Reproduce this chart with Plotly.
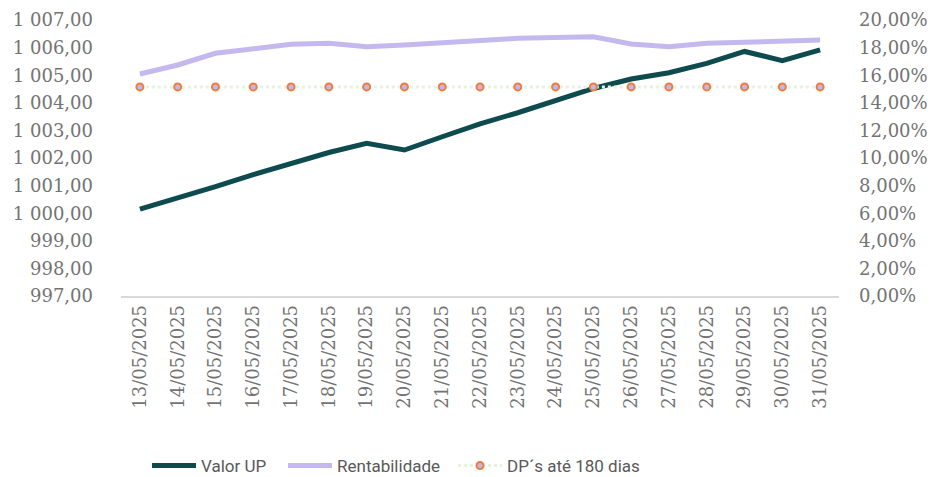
import plotly.graph_objects as go

datas = ["13/05/2025", "14/05/2025", "15/05/2025", "16/05/2025", "17/05/2025",
         "18/05/2025", "19/05/2025", "20/05/2025", "21/05/2025", "22/05/2025",
         "23/05/2025", "24/05/2025", "25/05/2025", "26/05/2025", "27/05/2025",
         "28/05/2025", "29/05/2025", "30/05/2025", "31/05/2025"]

valor_up = [1000.15, 1000.55, 1000.96, 1001.40, 1001.82, 1002.20, 1002.53, 1002.29,
            1002.77, 1003.24, 1003.64, 1004.10, 1004.52, 1004.86, 1005.09, 1005.43,
            1005.86, 1005.53, 1005.92]

rentabilidade = [0.1609, 0.1674, 0.1759, 0.1795, 0.1824, 0.1831, 0.1807, 0.1819,
                 0.1836, 0.1848, 0.1867, 0.1874, 0.1879, 0.1826, 0.1807, 0.1831,
                 0.1838, 0.1848, 0.1855]

dp_180 = [0.1515] * len(datas)

tick_font = dict(family="DejaVu Serif", size=18, color="#737373")
leg_font = dict(family="Roboto", size=17, color="#595959")

W, H = 928, 469  # page body has an 8px margin

fig = go.Figure()

fig.add_trace(go.Scatter(
    x=datas, y=valor_up, name="Valor UP", mode="lines",
    line=dict(color="#0d4b4f", width=5), yaxis="y", legend="legend"))

fig.add_trace(go.Scatter(
    x=datas, y=rentabilidade, name="Rentabilidade", mode="lines",
    line=dict(color="#c4b9ef", width=5), yaxis="y2", legend="legend2"))

fig.add_trace(go.Scatter(
    x=datas, y=dp_180, name="DP´s até 180 dias", mode="lines+markers",
    line=dict(color="#e6f4dc", width=3, dash="dot"),
    marker=dict(size=7, color="#c8b4e0", line=dict(color="#f07c3c", width=2)),
    yaxis="y2", legend="legend3"))

def leg(xpx):
    return dict(orientation="h", xref="container", yref="container",
                x=(xpx - 8) / W, xanchor="left", y=1 - (466 - 8) / H, yanchor="middle",
                font=leg_font, itemwidth=44, bgcolor="rgba(0,0,0,0)",
                borderwidth=0)

fig.update_layout(
    width=W, height=H,
    margin=dict(l=113, r=97, t=12, b=181, autoexpand=False),
    paper_bgcolor="white", plot_bgcolor="white",
    separators=", ",
    showlegend=True,
    legend=leg(147), legend2=leg(283), legend3=leg(453),
    xaxis=dict(type="category", range=[-0.5, len(datas) - 0.5], tickangle=-90,
               tickfont=tick_font, automargin=False,
               showgrid=False, showline=True, linecolor="#d9d9d9", linewidth=1.5,
               ticks="", zeroline=False),
    yaxis=dict(range=[997, 1007], dtick=1, tick0=997, tickformat=",.2f",
               tickfont=tick_font, showgrid=False, zeroline=False, showline=False,
               ticks="", automargin=False, ticklabelstandoff=27),
    yaxis2=dict(range=[0, 0.20], dtick=0.02, tick0=0, tickformat=".2%",
                tickfont=tick_font, overlaying="y", side="right", showgrid=False,
                zeroline=False, showline=False, ticks="", automargin=False,
                ticklabelstandoff=19),
)

fig.write_html("out.html")
